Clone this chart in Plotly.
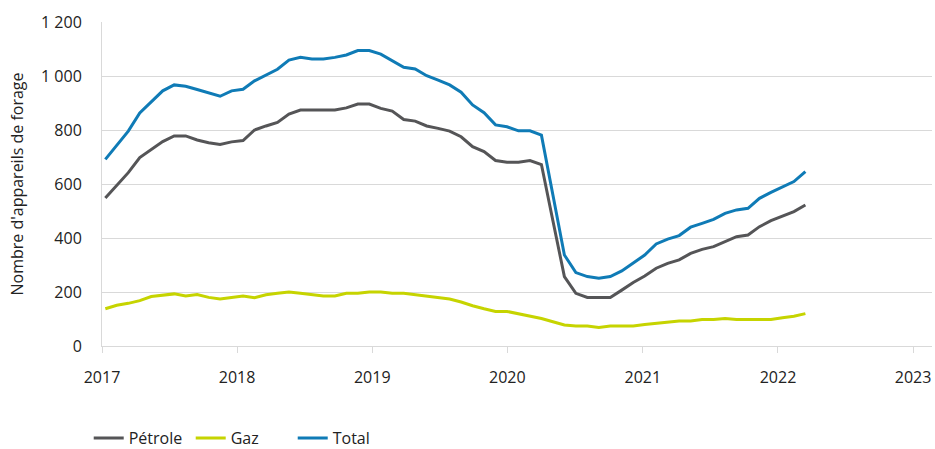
import pandas as pd
import plotly.graph_objects as go

# observation dates (62 monthly observations, Jan 2017 - Feb 2022)
dates = pd.date_range("2017-01-10", periods=62, freq="31D")

petrole = [548, 596, 642, 698, 726, 757, 778, 778, 763, 753, 746, 756, 761, 800,
           815, 828, 859, 874, 874, 874, 874, 882, 896, 896, 880, 870,
           839, 833, 815, 806, 796, 775, 738, 720, 687, 681, 681, 687, 672,
           464, 257, 195, 180, 180, 180, 207, 235, 259, 288, 306, 319, 343,
           358, 368, 386, 405, 411, 442, 464, 481, 498, 522]

gaz = [138, 151, 158, 168, 183, 188, 193, 185, 191, 180, 174, 180, 185, 179,
       190, 195, 200, 195, 191, 185, 185, 195, 195, 200, 200, 195,
       195, 190, 185, 180, 174, 163, 149, 138, 128, 128, 119, 109, 102,
       90, 78, 74, 74, 69, 74, 74, 74, 80, 85, 89, 93, 93,
       98, 98, 102, 98, 98, 98, 98, 105, 110, 120]

total = [691, 745, 796, 863, 904, 945, 967, 962, 950, 937, 925, 945, 951, 982,
         1004, 1025, 1059, 1069, 1063, 1063, 1069, 1078, 1094, 1094, 1081, 1057,
         1032, 1026, 1001, 985, 967, 940, 893, 864, 819, 812, 797, 797, 781,
         559, 337, 272, 257, 251, 257, 278, 309, 337, 378, 396, 409, 440,
         454, 469, 491, 504, 510, 547, 569, 590, 609, 646]

series_names = ["Pétrole", "Gaz", "Total"]
series_colors = ["#555557", "#c6d400", "#0f7bb6"]
y_ticks = [0, 200, 400, 600, 800, 1000, 1200]
x_ticks = ["2017", "2018", "2019", "2020", "2021", "2022", "2023"]

FONT = "Open Sans"
TXT = "#222222"

fig = go.Figure()
for name, vals, col in zip(series_names, [petrole, gaz, total], series_colors):
    fig.add_trace(go.Scatter(x=dates, y=vals, name=name, mode="lines",
                             line=dict(color=col, width=3)))

fig.update_layout(
    width=935, height=449,
    margin=dict(l=102, r=3, t=22, b=103),
    paper_bgcolor="white", plot_bgcolor="white",
    font=dict(family=FONT, size=16, color=TXT),
    separators=", ",
    showlegend=True,
    legend=dict(orientation="h", x=-0.016, xanchor="left",
                yref="container", y=0.024, yanchor="middle",
                entrywidth=57, entrywidthmode="pixels",
                font=dict(size=16, color=TXT), traceorder="normal"),
)
fig.update_xaxes(
    type="date", automargin=False,
    range=["2017-01-01", "2023-02-21"],
    tickvals=[f"{y}-01-01" for y in x_ticks], ticktext=x_ticks,
    showgrid=False, showline=True, linecolor="#d9d9d9", linewidth=1,
    ticks="outside", ticklen=6, tickcolor="#d9d9d9", tickwidth=1,
    ticklabelstandoff=11,
    tickfont=dict(size=16, color=TXT), zeroline=False,
)
fig.update_yaxes(
    automargin=False,
    range=[0, 1200], tickvals=y_ticks, tickformat=",d",
    showgrid=True, gridcolor="#d9d9d9", gridwidth=1,
    showline=True, linecolor="#d9d9d9", linewidth=1, zeroline=False,
    ticks="", ticklabelstandoff=16,
    tickfont=dict(size=16, color=TXT),
    title=dict(text="Nombre d'appareils de forage", font=dict(size=16, color=TXT), standoff=13),
)

fig.write_html("out.html", config={"displayModeBar": False},
               post_script="document.body.style.margin='0';")
